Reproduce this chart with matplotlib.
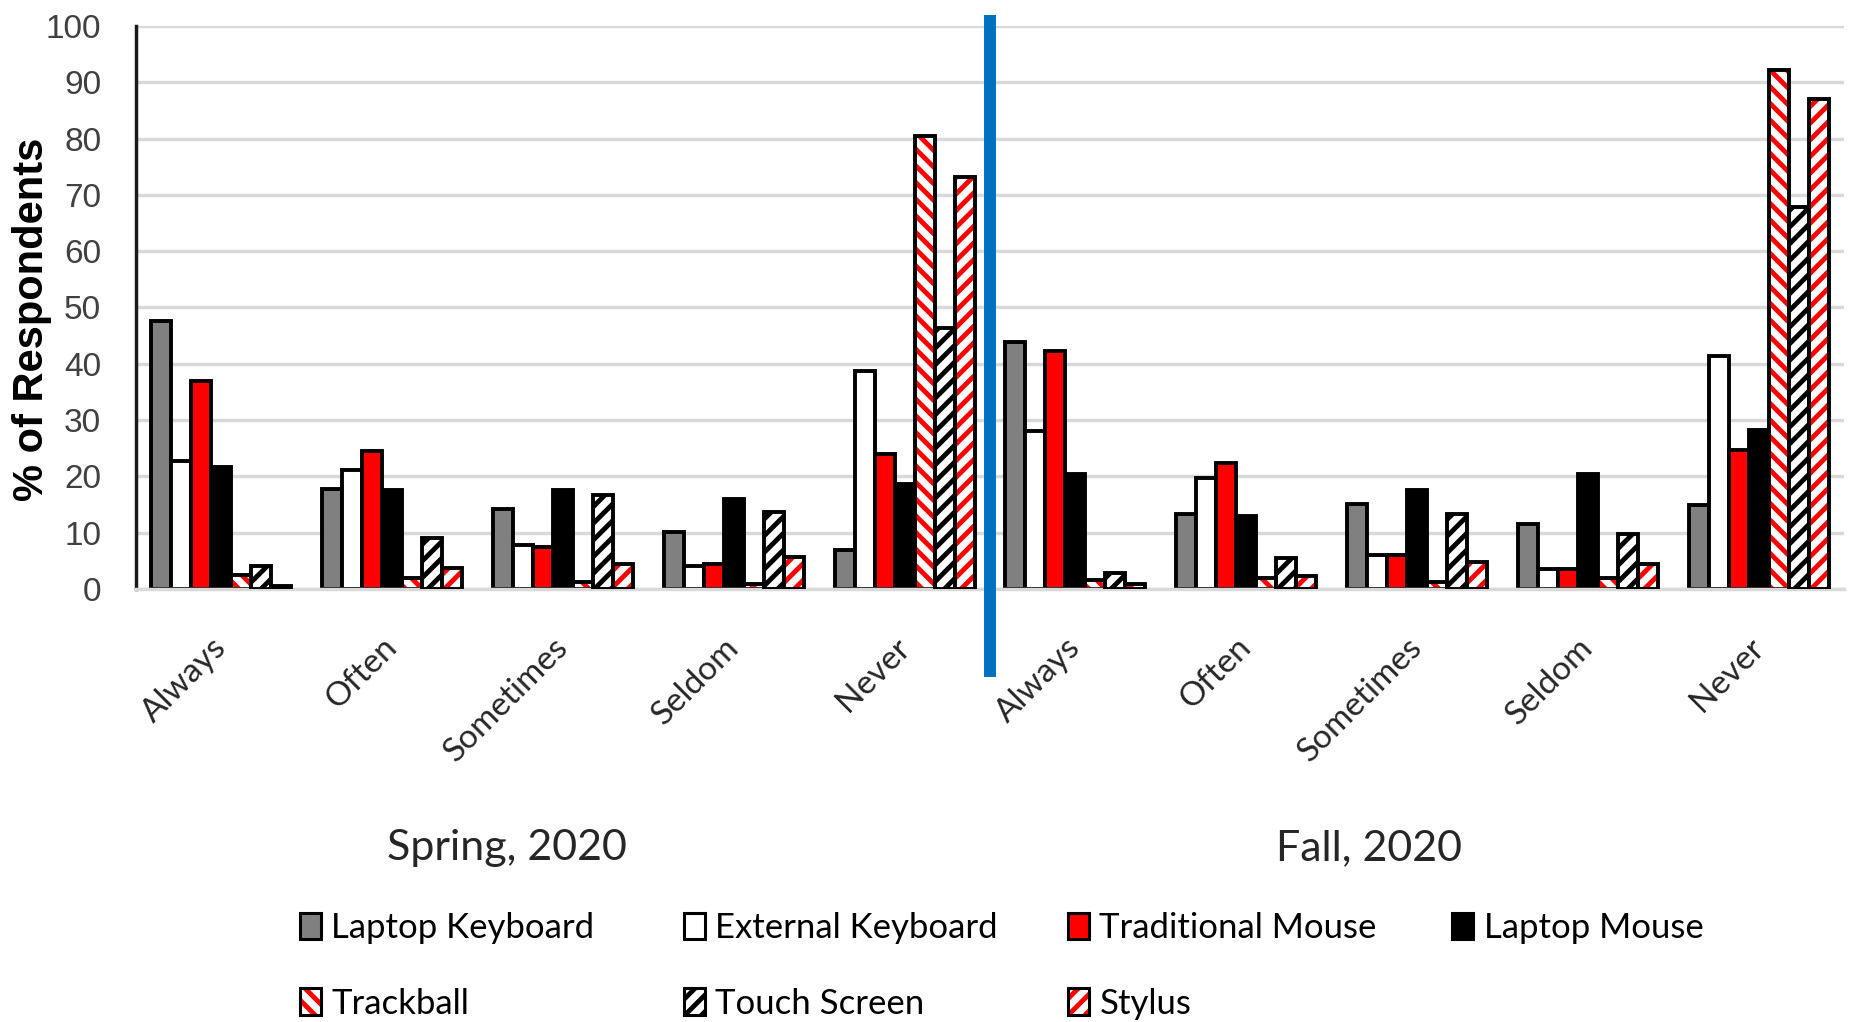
import matplotlib
matplotlib.use('Agg')
import matplotlib.pyplot as plt
import matplotlib.transforms as mtransforms
import numpy as np
from matplotlib.patches import Patch
from matplotlib.legend_handler import HandlerTuple

# response frequency per device, Spring 2020 groups then Fall 2020 groups
categories = ['Always', 'Often', 'Sometimes', 'Seldom', 'Never',
              'Always', 'Often', 'Sometimes', 'Seldom', 'Never']
semesters = ['Spring, 2020', 'Fall, 2020']
semester_pos = [1.67, 6.72]

laptop_keyboard = [47.6, 17.8, 14.2, 10.2, 6.9, 43.9, 13.3, 15.1, 11.6, 15.0]
external_keyboard = [22.8, 21.2, 7.8, 4.0, 38.7, 28.1, 19.8, 6.0, 3.6, 41.4]
traditional_mouse = [36.9, 24.5, 7.4, 4.5, 24.0, 42.3, 22.3, 6.0, 3.6, 24.7]
laptop_mouse = [21.6, 17.5, 17.5, 15.9, 18.6, 20.4, 13.0, 17.5, 20.4, 28.2]
trackball = [2.4, 1.9, 1.2, 0.9, 80.5, 1.6, 1.9, 1.2, 1.9, 92.2]
touch_screen = [4.1, 9.0, 16.7, 13.7, 46.3, 2.9, 5.5, 13.3, 9.7, 67.8]
stylus = [0.5, 3.7, 4.5, 5.7, 73.2, 0.8, 2.3, 4.8, 4.5, 87.0]

series = [laptop_keyboard, external_keyboard, traditional_mouse, laptop_mouse,
          trackball, touch_screen, stylus]
names = ['Laptop Keyboard', 'External Keyboard', 'Traditional Mouse',
         'Laptop Mouse', 'Trackball', 'Touch Screen', 'Stylus']

# fill colour, hatch, hatch colour
styles = [('#808080', None, None),
          ('white', None, None),
          ('#ff0000', None, None),
          ('black', None, None),
          ('white', '\\\\', '#ff0000'),
          ('white', '//', 'black'),
          ('white', '//', '#ff0000')]

plt.rcParams['hatch.linewidth'] = 3.5
text_font = ['Lato', 'DejaVu Sans']
num_font = ['Liberation Sans', 'DejaVu Sans']

fig = plt.figure(figsize=(18.6, 10.22), dpi=100)
ax = fig.add_axes([0.0731, 0.4237, 0.9183, 0.5509])

x = np.arange(len(categories))
w = 0.117
edge_lw = 2.8
handles = []
for i, (vals, (fc, hatch, hc)) in enumerate(zip(series, styles)):
    pos = x + (i - 3) * w
    z = 2 + i * 0.1
    if hatch:
        ax.bar(pos, vals, w, color=fc, edgecolor=hc, linewidth=0,
               hatch=hatch, zorder=z)
        ax.bar(pos, vals, w, facecolor='none', edgecolor='black',
               linewidth=edge_lw, joinstyle='miter', zorder=z + 0.05)
        handles.append((Patch(facecolor=fc, edgecolor=hc, linewidth=0, hatch=hatch),
                        Patch(facecolor='none', edgecolor='black', linewidth=2.2)))
    else:
        ax.bar(pos, vals, w, color=fc, edgecolor='black',
               linewidth=edge_lw, joinstyle='miter', zorder=z)
        handles.append(Patch(facecolor=fc, edgecolor='black', linewidth=2.2))

ax.set_xlim(-0.5, 9.5)
ax.set_ylim(0, 100)
ax.set_yticks(range(0, 101, 10))
ax.yaxis.grid(True, color='#d9d9d9', linewidth=2.5)
ax.set_axisbelow(True)
for side in ['top', 'right']:
    ax.spines[side].set_visible(False)
ax.spines['bottom'].set_color('#d9d9d9')
ax.spines['bottom'].set_linewidth(2.5)
ax.spines['left'].set_linewidth(2.5)
ax.spines['left'].set_color('#1a1a1a')

ax.tick_params(axis='y', length=0, pad=25, labelsize=24, labelcolor='#404040')
for lab in ax.get_yticklabels():
    lab.set_family(num_font)

ax.set_xticks(x)
ax.set_xticklabels(categories, rotation=45, ha='right', va='top',
                   fontsize=24, family=text_font, color='#262626')
ax.tick_params(axis='x', length=0, pad=31)
shift = mtransforms.ScaledTranslation(11 / 100, 0, fig.dpi_scale_trans)
for lab in ax.get_xticklabels():
    lab.set_transform(lab.get_transform() + shift)

# divider between the two semesters
blend = mtransforms.blended_transform_factory(ax.transData, ax.transAxes)
ax.plot([4.5, 4.5], [-0.156, 1.0195], transform=blend, color='#0070c0',
        linewidth=8.6, solid_capstyle='butt', clip_on=False, zorder=6)

fig_blend = mtransforms.blended_transform_factory(ax.transData, fig.transFigure)
for name, xp in zip(semesters, semester_pos):
    ax.text(xp, 0.170, name, transform=fig_blend, ha='center', va='center',
            fontsize=31, family=text_font, color='#262626')

fig.text(0.0172, 1 - 319 / 1022, '% of Respondents', rotation=90,
         ha='center', va='center', fontsize=30, fontweight='bold',
         family=num_font)

# legend: four equally spaced columns, filled row by row
columns = [[0, 4], [1, 5], [2, 6], [3]]
for k, col in enumerate(columns):
    fig.legend([handles[j] for j in col], [names[j] for j in col],
               loc='upper left', bbox_to_anchor=(0.1613 + k * 0.2065, 0.1075),
               frameon=False, borderpad=0, borderaxespad=0,
               handlelength=0.6, handleheight=0.8, handletextpad=0.3,
               labelspacing=1.25,
               handler_map={tuple: HandlerTuple(ndivide=1, pad=0)},
               prop={'family': text_font, 'size': 25})

fig.savefig('out.png', dpi=100)
